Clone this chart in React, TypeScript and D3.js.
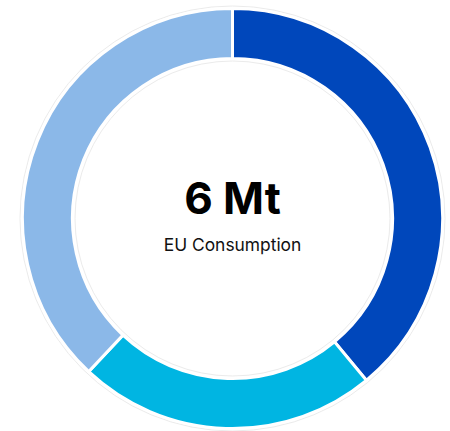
import React from "react";
import * as d3 from "d3";

const categories = ["Segment A", "Segment B", "Segment C"];
const values = [39, 23, 38];
const colors = ["#0047BB", "#00B5E2", "#8BB8E8"];
const centerValue = "6 Mt";
const centerLabel = "EU Consumption";

export default function App() {
  const width = 450;
  const height = 431;
  const cx = 232.5;
  const cy = 218.5;
  const outerR = 210;
  const innerR = 160;

  const pie = d3.pie<number>().sort(null).value((d) => d)(values);
  const arc = d3.arc<d3.PieArcDatum<number>>().innerRadius(innerR).outerRadius(outerR);

  return (
    <svg width={width} height={height} style={{ position: "absolute", left: 0, top: 0 }}>
      <g transform={`translate(${cx},${cy})`}>
        <circle r={outerR + 2.5} fill="none" stroke="#ebebeb" strokeWidth={1} />
        <circle r={innerR - 2.5} fill="none" stroke="#ebebeb" strokeWidth={1} />
        {pie.map((d, i) => (
          <path key={categories[i]} d={arc(d) || ""} fill={colors[i]} stroke="#fff" strokeWidth={3} />
        ))}
        <text x={0} y={-5} textAnchor="middle" fontFamily="Inter, sans-serif" fontWeight={700} fontSize={44} fill="#000">
          {centerValue}
        </text>
        <text x={0} y={32} textAnchor="middle" fontFamily="Inter, sans-serif" fontSize={17.4} fill="#111">
          {centerLabel}
        </text>
      </g>
    </svg>
  );
}
